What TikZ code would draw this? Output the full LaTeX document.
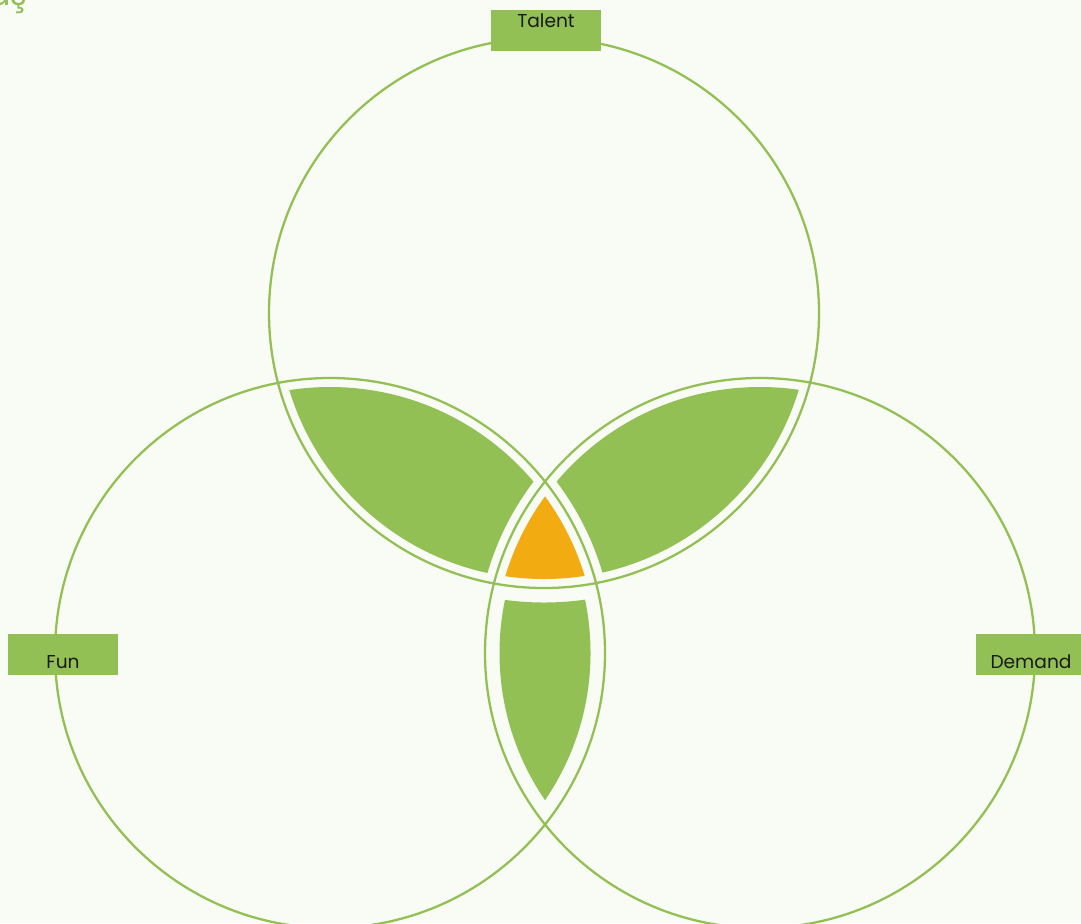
\documentclass[tikz,border=0pt]{standalone}
\usepackage{fontspec}
\setmainfont{Poppins}
\usepackage{xcolor}
\usepackage{tikz}
\usetikzlibrary{positioning}
\definecolor{leaf}{HTML}{93C054}
\definecolor{amber}{HTML}{F2AC12}
\definecolor{paper}{HTML}{F9FCF5}
\definecolor{ink}{HTML}{1A1A1A}
\tikzset{
  ring/.style={draw=leaf,line width=0.65pt},
  tag/.style={fill=leaf,minimum width=1.10cm,minimum height=0.41cm,
              inner sep=0pt},
  tagtext/.style={font=\fontsize{5.3}{6}\selectfont,text=ink,inner sep=0pt},
}
\newcommand{\rad}{2.75}
\newcommand{\radin}{2.66}
\newcommand{\radout}{2.84}
% the lower lens sits further in
\newcommand{\radinlow}{2.605}
\newcommand{\radoutlow}{2.895}

\begin{document}
\begin{tikzpicture}
  \fill[paper] (0,0) rectangle (10.81,9.23);
  \useasboundingbox (0,0) rectangle (10.81,9.23);

  % ---- Circle centres ----
  \coordinate (ctalent) at (5.44,6.10);
  \coordinate (cfun) at (3.30,2.70);
  \coordinate (cdemand) at (7.60,2.70);

  % ---- Green lenses ----
  \begin{scope}
    \clip (ctalent) circle (\radin);
    \clip (cfun) circle (\radin);
    \fill[leaf,even odd rule] (0,0) rectangle (10.81,9.23)
      (cdemand) circle (\radout);
  \end{scope}
  \begin{scope}
    \clip (ctalent) circle (\radin);
    \clip (cdemand) circle (\radin);
    \fill[leaf,even odd rule] (0,0) rectangle (10.81,9.23)
      (cfun) circle (\radout);
  \end{scope}
  \begin{scope}
    \clip (cfun) circle (\radinlow);
    \clip (cdemand) circle (\radinlow);
    \fill[leaf,even odd rule] (0,0) rectangle (10.81,9.23)
      (ctalent) circle (\radoutlow);
  \end{scope}

  % ---- Centre ----
  \begin{scope}
    \clip (ctalent) circle (\radin);
    \clip (cfun) circle (\radin);
    \fill[amber] (cdemand) circle (\radin);
  \end{scope}

  % ---- Outlines ----
  \draw[ring] (ctalent) circle (\rad);
  \draw[ring] (cfun) circle (\rad);
  \draw[ring] (cdemand) circle (\rad);

  % ---- Labels ----
  \node[tag] (talent) at (5.46,8.92) {};
  \node[tagtext] at ([yshift=0.10cm]talent.center) {Talent};

  \node[tag] (fun) at (0.63,2.69) {};
  \node[tagtext] at ([yshift=-0.08cm]fun.center) {Fun};

  \node[tag] (demand) at (10.31,2.69) {};
  \node[tagtext] at ([yshift=-0.08cm]demand.center) {Demand};

  \node[font=\fontsize{9}{10}\selectfont,text=leaf,inner sep=0pt,
        anchor=base east] (title) at (0.28,9.17) {aş};
\end{tikzpicture}
\end{document}
